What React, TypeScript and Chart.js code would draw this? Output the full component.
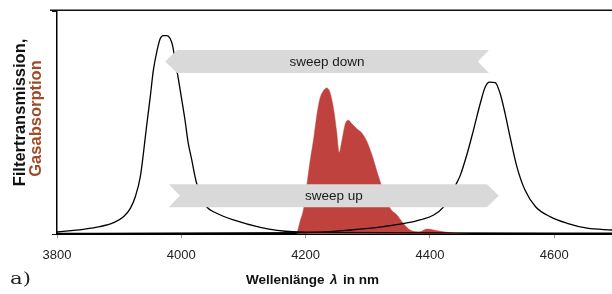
import React, { useEffect, useRef } from "react";
import { Chart, registerables } from "chart.js";

Chart.register(...registerables);

// ---- data ----
const xTickValues = [3800, 4000, 4200, 4400, 4600];
const xMin = 3800;
const xMax = 4693;

// filter transmission, left peak
const filterLeftX = [3800, 3842, 3869, 3891, 3907, 3918, 3926, 3934, 3939, 3944, 3950, 3955, 3961, 3966, 3971, 3977, 3982, 3986, 3990, 3995, 4000, 4006, 4011, 4017, 4022, 4025, 4032, 4041, 4056, 4084, 4127, 4180, 4240, 4400, 4693];
const filterLeftY = [0.009, 0.021, 0.033, 0.051, 0.077, 0.115, 0.167, 0.256, 0.361, 0.48, 0.614, 0.734, 0.823, 0.876, 0.89, 0.89, 0.877, 0.845, 0.78, 0.7, 0.615, 0.51, 0.41, 0.33, 0.258, 0.224, 0.166, 0.121, 0.094, 0.063, 0.03, 0.01, 0.007, 0.005, 0.004];

// filter transmission, right peak
const filterRightX = [3800, 4200, 4272, 4325, 4374, 4384, 4406, 4422, 4433, 4443, 4449, 4460, 4470, 4481, 4489, 4496, 4505, 4513, 4521, 4529, 4540, 4553, 4570, 4594, 4621, 4653, 4693];
const filterRightY = [0.003, 0.006, 0.018, 0.033, 0.055, 0.063, 0.085, 0.122, 0.174, 0.228, 0.264, 0.361, 0.465, 0.585, 0.659, 0.681, 0.679, 0.63, 0.54, 0.435, 0.301, 0.197, 0.122, 0.077, 0.048, 0.026, 0.018];

// gas absorption band
const gasX = [4186, 4191, 4197, 4202, 4207, 4213, 4218, 4223, 4229, 4234, 4239, 4245, 4250, 4254, 4258, 4264, 4269, 4274, 4282, 4291, 4299, 4307, 4315, 4320, 4328, 4336, 4347, 4357, 4368, 4384, 4395, 4406, 4422, 4443, 4465];
const gasY = [0, 0.055, 0.115, 0.219, 0.323, 0.428, 0.532, 0.607, 0.644, 0.655, 0.637, 0.562, 0.458, 0.366, 0.413, 0.495, 0.51, 0.495, 0.473, 0.451, 0.413, 0.353, 0.279, 0.234, 0.17, 0.115, 0.085, 0.048, 0.018, 0.01, 0.022, 0.018, 0.01, 0.003, 0];

// sweep annotations (from -> to wavelength, at relative height)
const sweepLabels = ["sweep down", "sweep up"];
const sweepFrom = [4495, 3980];
const sweepTo = [3974, 4511];
const sweepLevel = [0.774, 0.172];

const xTitleMain = "Wellenlänge";
const xTitleSymbol = "λ";
const xTitleUnit = "in nm";
const yTitleLine1 = "Filtertransmission,";
const yTitleLine2 = "Gasabsorption";
const panelLabel = "a)";

const pts = (xs: number[], ys: number[]) => xs.map((x, i) => ({ x, y: ys[i] }));

const SANS = "'Liberation Sans', Arial, Helvetica, sans-serif";

const decorPlugin = {
  id: "decor",
  afterDatasetsDraw(chart: any) {
    const { ctx, scales } = chart;
    const xs = scales.x;
    const ys = scales.y;
    ctx.save();
    for (let i = 0; i < sweepLabels.length; i++) {
      const x1 = xs.getPixelForValue(sweepFrom[i]);
      const x2 = xs.getPixelForValue(sweepTo[i]);
      const yc = ys.getPixelForValue(sweepLevel[i]);
      const dir = x2 > x1 ? 1 : -1;
      const h = 11.5;
      const tip = 12;
      const notch = 11;
      ctx.beginPath();
      ctx.moveTo(x1, yc - h);
      ctx.lineTo(x2 - dir * tip, yc - h);
      ctx.lineTo(x2, yc);
      ctx.lineTo(x2 - dir * tip, yc + h);
      ctx.lineTo(x1, yc + h);
      ctx.lineTo(x1 + dir * notch, yc);
      ctx.closePath();
      ctx.fillStyle = "#d9d9d9";
      ctx.fill();
      ctx.fillStyle = "#1a1a1a";
      ctx.font = `13.5px ${SANS}`;
      ctx.textAlign = "center";
      ctx.textBaseline = "middle";
      ctx.fillText(sweepLabels[i], (x1 + x2) / 2, yc + 0.5);
    }
    ctx.restore();
  },
  afterDraw(chart: any) {
    const { ctx, chartArea, width } = chart;
    ctx.save();
    ctx.strokeStyle = "#111";
    ctx.lineWidth = 1.5;
    ctx.beginPath();
    ctx.moveTo(50, chartArea.top - 0.75);
    ctx.lineTo(width, chartArea.top - 0.75);
    ctx.stroke();

    ctx.save();
    ctx.translate(25, 112.5);
    ctx.rotate(-Math.PI / 2);
    ctx.textAlign = "center";
    ctx.textBaseline = "alphabetic";
    ctx.font = `bold 16.5px ${SANS}`;
    ctx.fillStyle = "#111";
    ctx.fillText(yTitleLine1, 0, 0);
    ctx.restore();
    ctx.save();
    ctx.translate(40.5, 118.5);
    ctx.rotate(-Math.PI / 2);
    ctx.textAlign = "center";
    ctx.textBaseline = "alphabetic";
    ctx.font = `bold 16.5px ${SANS}`;
    ctx.fillStyle = "#a14a28";
    ctx.fillText(yTitleLine2, 0, 0);
    ctx.restore();

    const fMain = `bold 13.5px ${SANS}`;
    const fSym = `italic bold 13.5px ${SANS}`;
    ctx.font = fMain;
    const w1 = ctx.measureText(xTitleMain).width;
    const w3 = ctx.measureText(xTitleUnit).width;
    ctx.font = fSym;
    const w2 = ctx.measureText(xTitleSymbol).width;
    const gap = 5.5;
    const total = w1 + gap + w2 + gap + w3;
    let x = 312.5 - total / 2;
    const yb = 284;
    ctx.textAlign = "left";
    ctx.textBaseline = "alphabetic";
    ctx.fillStyle = "#111";
    ctx.font = fMain;
    ctx.fillText(xTitleMain, x, yb);
    x += w1 + gap;
    ctx.font = fSym;
    ctx.fillText(xTitleSymbol, x, yb);
    x += w2 + gap;
    ctx.font = fMain;
    ctx.fillText(xTitleUnit, x, yb);

    ctx.save();
    ctx.translate(10, 284);
    ctx.scale(1.25, 1);
    ctx.font = `17px 'DejaVu Serif', 'Liberation Serif', serif`;
    ctx.fillStyle = "#222";
    ctx.fillText(panelLabel, 0, 0);
    ctx.restore();
    ctx.restore();
  },
};

export default function App() {
  const ref = useRef<HTMLCanvasElement | null>(null);
  useEffect(() => {
    if (!ref.current) return;
    Chart.defaults.font.family = SANS;
    const chart = new Chart(ref.current, {
      type: "line",
      data: {
        datasets: [
          {
            data: pts(filterLeftX, filterLeftY),
            borderColor: "#000",
            borderWidth: 1.3,
            pointRadius: 0,
            fill: false,
            cubicInterpolationMode: "monotone",
          },
          {
            data: pts(filterRightX, filterRightY),
            borderColor: "#000",
            borderWidth: 1.3,
            pointRadius: 0,
            fill: false,
            cubicInterpolationMode: "monotone",
          },
          {
            data: pts(gasX, gasY),
            borderColor: "rgba(192,66,63,0.9)",
            borderWidth: 0.5,
            backgroundColor: "#c0423f",
            pointRadius: 0,
            fill: "origin",
            cubicInterpolationMode: "monotone",
          },
        ],
      },
      options: {
        animation: false,
        responsive: false,
        devicePixelRatio: 1,
        layout: { padding: { top: 11, right: 0, left: 0, bottom: 0 } },
        plugins: { legend: { display: false }, tooltip: { enabled: false } },
        scales: {
          x: {
            type: "linear",
            min: xMin,
            max: xMax,
            afterBuildTicks: (scale: any) => {
              scale.ticks = xTickValues.map((v) => ({ value: v }));
            },
            afterFit: (scale: any) => {
              scale.height = 60;
            },
            grid: {
              display: true,
              drawOnChartArea: false,
              drawTicks: true,
              tickLength: 4,
              color: "#999",
            },
            border: { display: true, color: "#000", width: 2 },
            ticks: {
              color: "#222",
              font: { size: 13 },
              padding: 10,
              maxRotation: 0,
              autoSkip: false,
              callback: (v: any) => String(v),
            },
          },
          y: {
            type: "linear",
            min: 0,
            max: 1,
            afterBuildTicks: (scale: any) => {
              scale.ticks = [{ value: 0 }, { value: 1 }];
            },
            afterFit: (scale: any) => {
              scale.width = 57;
            },
            grid: {
              display: true,
              drawOnChartArea: false,
              drawTicks: true,
              tickLength: 5,
              color: "#111",
            },
            border: { display: true, color: "#000", width: 1.5 },
            ticks: { display: false },
          },
        },
      },
      plugins: [decorPlugin],
    } as any);
    return () => chart.destroy();
  }, []);
  return (
    <div style={{ position: "absolute", left: 0, top: 0, width: 612, height: 294, background: "#fff" }}>
      <canvas ref={ref} width={612} height={294} style={{ display: "block", width: 612, height: 294 }} />
    </div>
  );
}
